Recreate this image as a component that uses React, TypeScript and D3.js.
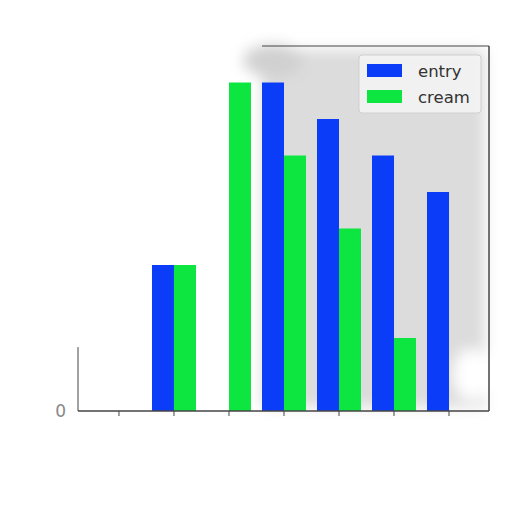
import { useEffect, useRef } from "react";
import * as d3 from "d3";

const categories = ["a", "b", "c", "d", "e", "f", "g"];
const entry = [0, 4, 0, 9, 8, 7, 6];
const cream = [0, 4, 9, 7, 5, 2, 0];
const seriesNames = ["entry", "cream"];
const yTicks = [0];

const width = 512;
const height = 512;
const margin = { top: 46, right: 23, bottom: 101, left: 78 };
const colors = ["#0b3cf7", "#0de541"];

function App() {
  const svgRef = useRef<SVGSVGElement | null>(null);

  useEffect(() => {
    const svg = d3.select(svgRef.current);
    svg.selectAll("*").remove();

    const x = d3
      .scaleLinear()
      .domain([-0.745, categories.length - 1 + 0.727])
      .range([margin.left, width - margin.right]);
    const y = d3
      .scaleLinear()
      .domain([0, 10])
      .range([height - margin.bottom, margin.top]);
    const barW = x(0.4) - x(0);

    // smudged grey background on the right part of the axes
    const defs = svg.append("defs");
    defs
      .append("filter")
      .attr("id", "blur")
      .attr("x", "-20%")
      .attr("y", "-20%")
      .attr("width", "140%")
      .attr("height", "140%")
      .append("feGaussianBlur")
      .attr("stdDeviation", 7);

    const bg = svg.append("g").attr("filter", "url(#blur)");
    bg.append("rect")
      .attr("x", x(2.6))
      .attr("y", y(10) + 4)
      .attr("width", x(6.727) - x(2.6) - 4)
      .attr("height", y(0) - y(10) - 8)
      .attr("fill", "#dcdcdc");
    bg.append("ellipse")
      .attr("cx", x(2.8))
      .attr("cy", y(9.6))
      .attr("rx", 30)
      .attr("ry", 16)
      .attr("fill", "#d0d0d0");
    bg.append("ellipse")
      .attr("cx", x(6.4))
      .attr("cy", y(1))
      .attr("rx", 18)
      .attr("ry", 26)
      .attr("fill", "#ffffff");

    // bars
    const groups = [entry, cream];
    groups.forEach((vals, si) => {
      svg
        .append("g")
        .selectAll("rect")
        .data(vals)
        .join("rect")
        .attr("x", (_, i) => x(i) + (si === 0 ? -barW : 0))
        .attr("y", (d) => y(d))
        .attr("width", barW)
        .attr("height", (d) => y(0) - y(d))
        .attr("fill", colors[si]);
    });

    // frame (only partly visible in the reference)
    const frame = svg.append("g").attr("stroke", "#444").attr("fill", "none");
    frame
      .append("line")
      .attr("x1", x(2.6))
      .attr("x2", x(6.727))
      .attr("y1", y(10))
      .attr("y2", y(10))
      .attr("stroke-width", 1);
    frame
      .append("line")
      .attr("x1", x(6.727))
      .attr("x2", x(6.727))
      .attr("y1", y(10))
      .attr("y2", y(0))
      .attr("stroke-width", 1.5);
    frame
      .append("line")
      .attr("x1", x(-0.745))
      .attr("x2", x(6.727))
      .attr("y1", y(0))
      .attr("y2", y(0))
      .attr("stroke-width", 1.5);
    frame
      .append("line")
      .attr("x1", x(-0.745))
      .attr("x2", x(-0.745))
      .attr("y1", y(1.75))
      .attr("y2", y(0))
      .attr("stroke-width", 1);

    // x ticks
    svg
      .append("g")
      .selectAll("line")
      .data(categories)
      .join("line")
      .attr("x1", (_, i) => x(i))
      .attr("x2", (_, i) => x(i))
      .attr("y1", y(0))
      .attr("y2", y(0) + 5)
      .attr("stroke", "#444");

    // y tick label
    svg
      .append("g")
      .selectAll("text")
      .data(yTicks)
      .join("text")
      .attr("x", x(-0.745) - 12)
      .attr("y", (d) => y(d))
      .attr("dy", "0.35em")
      .attr("text-anchor", "end")
      .attr("font-family", "DejaVu Sans, sans-serif")
      .attr("font-size", 17)
      .attr("fill", "#888")
      .text((d) => d);

    // legend
    const lg = svg.append("g").attr("transform", "translate(359,55)");
    lg.append("rect")
      .attr("width", 122)
      .attr("height", 58)
      .attr("rx", 3)
      .attr("fill", "#f4f4f4")
      .attr("fill-opacity", 0.85)
      .attr("stroke", "#cfcfcf");
    seriesNames.forEach((name, i) => {
      lg.append("rect")
        .attr("x", 8)
        .attr("y", 9 + i * 26)
        .attr("width", 35)
        .attr("height", 13)
        .attr("fill", colors[i]);
      lg.append("text")
        .attr("x", 59)
        .attr("y", 22 + i * 26)
        .attr("font-family", "DejaVu Sans, sans-serif")
        .attr("font-size", 16.5)
        .attr("fill", "#333")
        .text(name);
    });
  }, []);

  return (
    <svg
      ref={svgRef}
      width={width}
      height={height}
      style={{ position: "absolute", left: 0, top: 0, background: "#fff" }}
    />
  );
}

export default App;
